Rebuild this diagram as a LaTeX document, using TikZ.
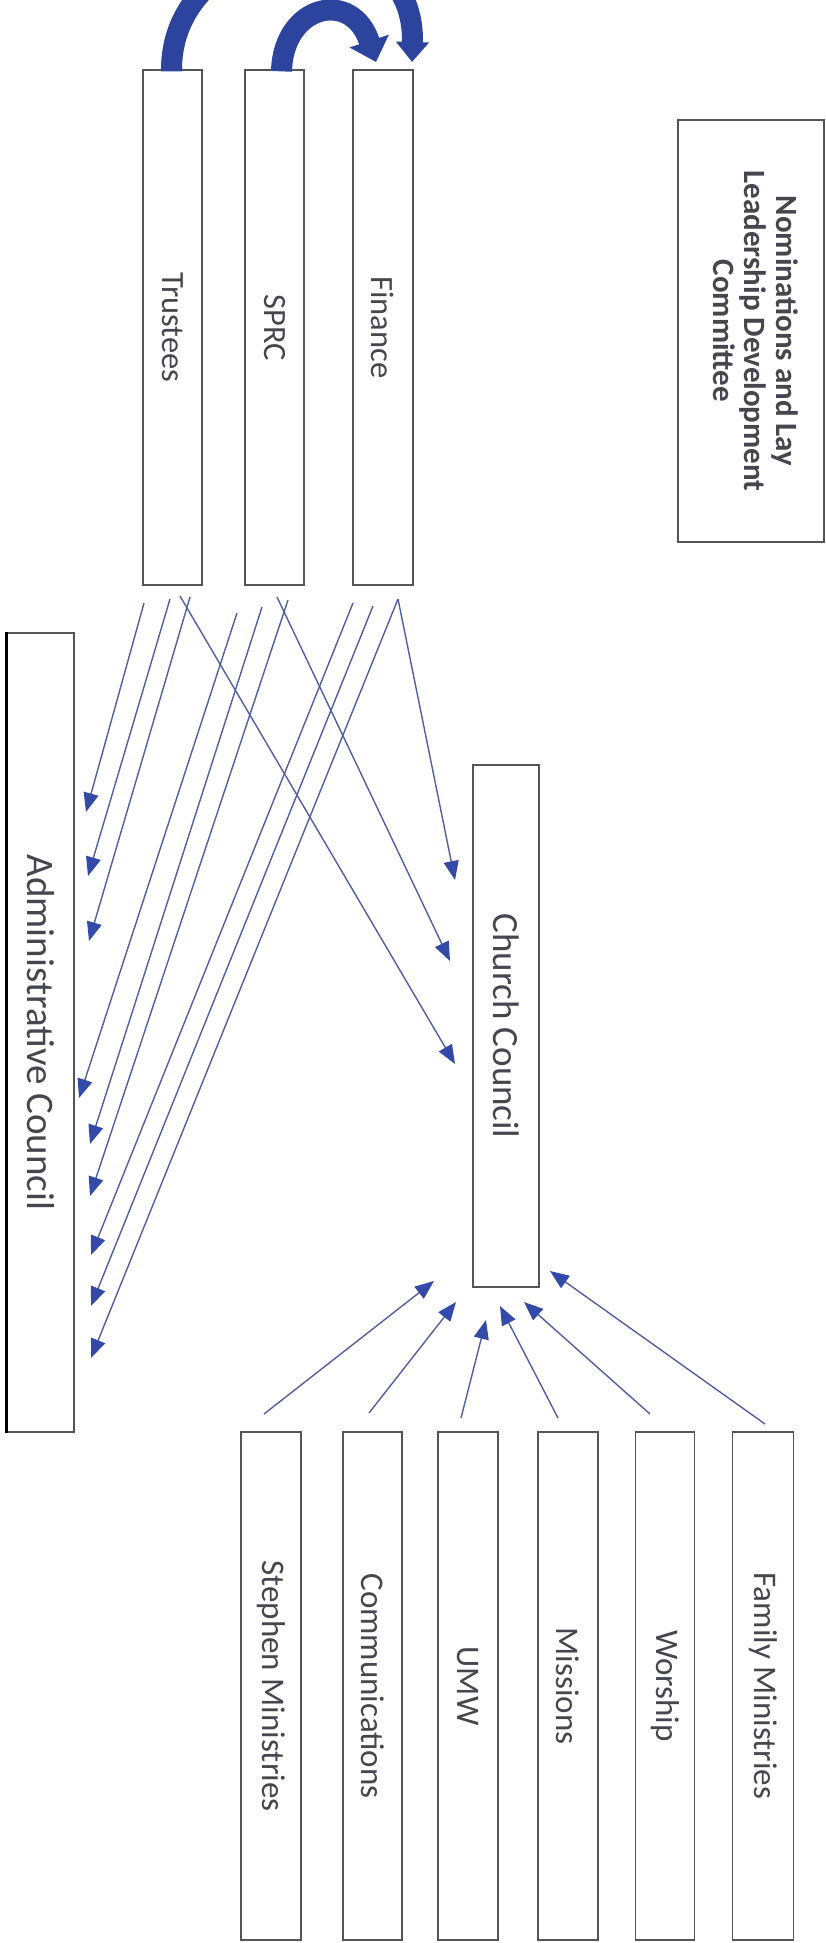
\documentclass[tikz,border=0pt]{standalone}
\usepackage{fontspec}
\setmainfont{Carlito}
\usetikzlibrary{arrows.meta}
\definecolor{lineblue}{RGB}{82,94,160}
\definecolor{tipblue}{RGB}{52,74,168}
\definecolor{arcblue}{RGB}{44,68,158}
\definecolor{boxgray}{RGB}{85,85,85}
\definecolor{txtgray}{RGB}{70,70,78}
\begin{document}
\begin{tikzpicture}[x=1pt,y=-1pt,
  box/.style={draw=boxgray, line width=1.3pt, inner sep=0pt, rectangle, text=txtgray},
  link/.style={draw=lineblue, line width=1.4pt, -{Triangle[length=19pt,width=15pt,fill=tipblue,color=tipblue]}},
  bigarc/.style={draw=arcblue, line width=21pt}
]
\useasboundingbox (0,0) rectangle (826,1943);
\clip (0,0) rectangle (826,1943);

% top row
\node[box, minimum width=59pt, minimum height=515pt] (trust) at (172.5,327.5) {\fontsize{32.5}{36}\selectfont\rotatebox{-90}{Trustees}};
\node[box, minimum width=59pt, minimum height=515pt] (sprc) at (274.5,327.5) {\fontsize{32.5}{36}\selectfont\rotatebox{-90}{SPRC}};
\node[box, minimum width=60pt, minimum height=515pt] (fin) at (383,327.5) {\fontsize{32.5}{36}\selectfont\rotatebox{-90}{Finance}};
\node[box, minimum width=146pt, minimum height=422pt] (nom) at (751,331) {\fontsize{31}{31.5}\selectfont\bfseries\rotatebox{-90}{\begin{tabular}{@{}c@{}}Nominations and Lay\\Leadership Development\\Committee\end{tabular}}};

% councils
\node[box, minimum width=67pt, minimum height=799pt] (admin) at (40.5,1032.5) {\fontsize{39}{44}\selectfont\rotatebox{-90}{Administrative Council}};
\draw[black, line width=3pt] (admin.north west) -- (admin.south west);
\node[box, minimum width=66pt, minimum height=522pt] (church) at (506,1026) {\fontsize{37}{42}\selectfont\rotatebox{-90}{Church Council}};

% bottom row
\node[box, minimum width=60pt, minimum height=508pt] (steph) at (271,1686) {\fontsize{33}{36}\selectfont\rotatebox{-90}{Stephen Ministries}};
\node[box, minimum width=59pt, minimum height=508pt] (comm) at (372.5,1686) {\fontsize{33}{36}\selectfont\rotatebox{-90}{Communications}};
\node[box, minimum width=60pt, minimum height=508pt] (umw) at (468,1686) {\fontsize{33}{36}\selectfont\rotatebox{-90}{UMW}};
\node[box, minimum width=60pt, minimum height=508pt] (miss) at (568,1686) {\fontsize{33}{36}\selectfont\rotatebox{-90}{Missions}};
\node[box, minimum width=59pt, minimum height=508pt] (wor) at (665,1686) {\fontsize{33}{36}\selectfont\rotatebox{-90}{Worship}};
\node[box, minimum width=61pt, minimum height=508pt] (fam) at (763,1686) {\fontsize{33}{36}\selectfont\rotatebox{-90}{Family Ministries}};

% connector end points
\coordinate (t1) at (144,603);  \coordinate (a1) at (86,812);
\coordinate (t2) at (170,599);  \coordinate (a2) at (88,876);
\coordinate (t3) at (190,597);  \coordinate (a3) at (89,941);
\coordinate (t4) at (180,596);  \coordinate (c3) at (455,1064);
\coordinate (s1) at (237,613);  \coordinate (a4) at (79,1098);
\coordinate (s2) at (262,607);  \coordinate (a5) at (90,1144);
\coordinate (s3) at (288,600);  \coordinate (a6) at (90,1196);
\coordinate (s4) at (277,597);  \coordinate (c2) at (450,961);
\coordinate (f1) at (353,603);  \coordinate (a7) at (91,1255);
\coordinate (f2) at (373,606);  \coordinate (a8) at (91,1306);
\coordinate (f3) at (398,599);  \coordinate (a9) at (91,1358);
\coordinate (c1) at (455,880);

\draw[link] (t1) -- (a1);
\draw[link] (t2) -- (a2);
\draw[link] (t3) -- (a3);
\draw[link] (t4) -- (c3);
\draw[link] (s1) -- (a4);
\draw[link] (s2) -- (a5);
\draw[link] (s3) -- (a6);
\draw[link] (s4) -- (c2);
\draw[link] (f1) -- (a7);
\draw[link] (f2) -- (a8);
\draw[link] (f3) -- (a9);
\draw[link] (f3) -- (c1);

% bottom connectors
\coordinate (b1) at (264,1414); \coordinate (e1) at (434,1281);
\coordinate (b2) at (369,1413); \coordinate (e2) at (456,1302);
\coordinate (b3) at (461,1418); \coordinate (e3) at (486,1320);
\coordinate (b4) at (558,1418); \coordinate (e4) at (500,1306);
\coordinate (b5) at (650,1414); \coordinate (e5) at (524,1302);
\coordinate (b6) at (765,1424); \coordinate (e6) at (550,1271);
\draw[link] (b1) -- (e1);
\draw[link] (b2) -- (e2);
\draw[link] (b3) -- (e3);
\draw[link] (b4) -- (e4);
\draw[link] (b5) -- (e5);
\draw[link] (b6) -- (e6);

% thick curved arrows at top
\draw[bigarc, -{Triangle[length=20pt,width=32pt]}] (trust.north) ++(-1,2) .. controls (170,-75) and (416,-100) .. (412,62);
\draw[bigarc, -{Triangle[length=22pt,width=40pt]}] (sprc.north) ++(7,2) .. controls (283,5) and (352,-12) .. (376,62);
\end{tikzpicture}
\end{document}
